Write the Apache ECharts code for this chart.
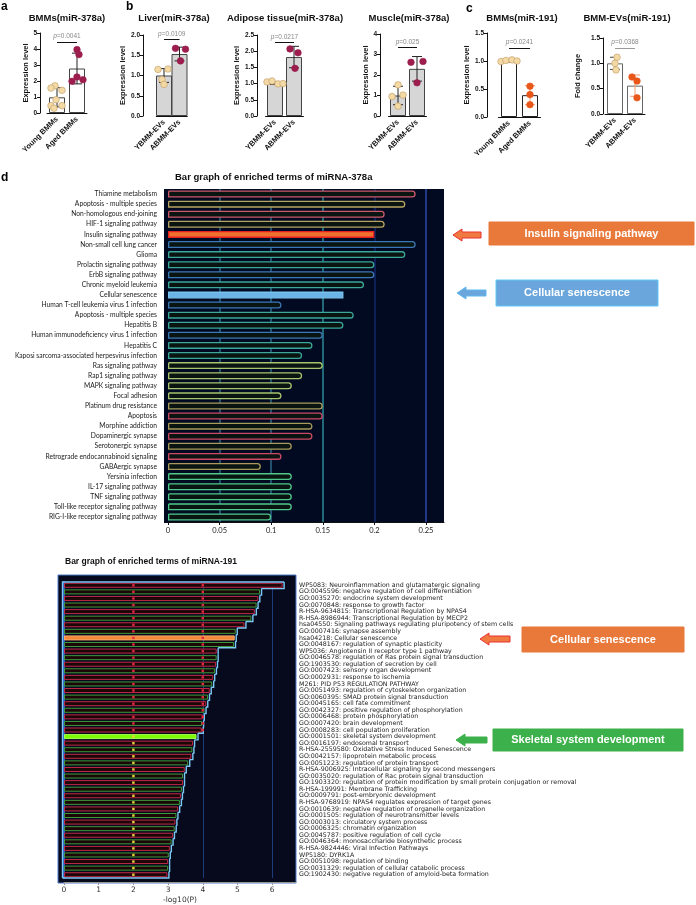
<!DOCTYPE html>
<html><head><meta charset="utf-8">
<script src="https://cdn.jsdelivr.net/npm/echarts@6/dist/echarts.min.js"></script>
<style>html,body{margin:0;padding:0;background:#fff}#c{width:696px;height:905px}</style>
</head><body><div id="c"></div><script>
// ================= DATA =================
const catsBMM = ['Young BMMs', 'Aged BMMs'];
const catsEV = ['YBMM-EVs', 'ABMM-EVs'];

// a: BMMs (miR-378a)
const aMean = [0.98, 2.78];
const aSD = [0.6, 0.96];
const aYoungPts = [1.7, 1.56, 1.42, 0.83, 0.46, 0.46, 0.3];
const aAgedPts = [3.96, 3.65, 2.25, 2.08, 1.98];
const aP = '0.0041';
const aBracket = 4.45;
// b: Liver
const liverMean = [1.0, 1.53];
const liverSD = [0.17, 0.17];
const liverYPts = [1.15, 1.16, 0.9, 0.78];
const liverAPts = [1.67, 1.65, 1.36];
const liverP = '0.0109';
const liverBracket = 1.89;
// b: Adipose tissue
const adiMean = [1.02, 1.82];
const adiSD = [0.04, 0.33];
const adiYPts = [1.05, 1.08, 0.99, 1.0];
const adiAPts = [2.07, 1.95, 1.47];
const adiP = '0.0217';
const adiBracket = 2.27;
// b: Muscle
const musMean = [1.0, 2.3];
const musSD = [0.45, 0.6];
const musYPts = [1.52, 0.95, 1.02, 0.48];
const musAPts = [2.62, 2.66, 1.62];
const musP = '0.025';
const musBracket = 3.35;
// c: BMMs (miR-191)
const c1Mean = [1.0, 0.39];
const c1SD = [0.02, 0.17];
const c1YPts = [0.99, 1.01, 1.02, 1.0];
const c1APts = [0.55, 0.4, 0.22];
const c1P = '0.0241';
const c1Bracket = 1.23;
// c: BMM-EVs (miR-191)
const c2Mean = [1.0, 0.56];
const c2SD = [0.12, 0.21];
const c2YPts = [1.12, 1.0, 0.87];
const c2APts = [0.73, 0.65, 0.32];
const c2P = '0.0368';
const c2Bracket = 1.3;

// d: enriched terms of miRNA-378a
const terms378 = ['Thiamine metabolism','Apoptosis - multiple species','Non-homologous end-joining','HIF-1 signaling pathway','Insulin signaling pathway','Non-small cell lung cancer','Glioma','Prolactin signaling pathway','ErbB signaling pathway','Chronic myeloid leukemia','Cellular senescence','Human T-cell leukemia virus 1 infection','Apoptosis - multiple species','Hepatitis B','Human immunodeficiency virus 1 infection','Hepatitis C','Kaposi sarcoma-associated herpesvirus infection','Ras signaling pathway','Rap1 signaling pathway','MAPK signaling pathway','Focal adhesion','Platinum drug resistance','Apoptosis','Morphine addiction','Dopaminergic synapse','Serotonergic synapse','Retrograde endocannabinoid signaling','GABAergic synapse','Yersinia infection','IL-17 signaling pathway','TNF signaling pathway','Toll-like receptor signaling pathway','RIG-I-like receptor signaling pathway'];
const vals378 = [0.24,0.23,0.21,0.21,0.20,0.24,0.23,0.20,0.20,0.19,0.17,0.11,0.18,0.17,0.15,0.14,0.13,0.15,0.13,0.12,0.11,0.15,0.15,0.14,0.14,0.12,0.11,0.09,0.12,0.12,0.12,0.12,0.10];

// d: enriched terms of miRNA-191
const terms191 = ['WP5083: Neuroinflammation and glutamatergic signaling','GO:0045596: negative regulation of cell differentiation','GO:0035270: endocrine system development','GO:0070848: response to growth factor','R-HSA-9634815: Transcriptional Regulation by NPAS4','R-HSA-8986944: Transcriptional Regulation by MECP2','hsa04550: Signaling pathways regulating pluripotency of stem cells','GO:0007416: synapse assembly','hsa04218: Cellular senescence','GO:0048167: regulation of synaptic plasticity','WP5036: Angiotensin II receptor type 1 pathway','GO:0046578: regulation of Ras protein signal transduction','GO:1903530: regulation of secretion by cell','GO:0007423: sensory organ development','GO:0002931: response to ischemia','M261: PID P53 REGULATION PATHWAY','GO:0051493: regulation of cytoskeleton organization','GO:0060395: SMAD protein signal transduction','GO:0045165: cell fate commitment','GO:0042327: positive regulation of phosphorylation','GO:0006468: protein phosphorylation','GO:0007420: brain development','GO:0008283: cell population proliferation','GO:0001501: skeletal system development','GO:0016197: endosomal transport','R-HSA-2559580: Oxidative Stress Induced Senescence','GO:0042157: lipoprotein metabolic process','GO:0051223: regulation of protein transport','R-HSA-9006925: Intracellular signaling by second messengers','GO:0035020: regulation of Rac protein signal transduction','GO:1903320: regulation of protein modification by small protein conjugation or removal','R-HSA-199991: Membrane Trafficking','GO:0009791: post-embryonic development','R-HSA-9768919: NPAS4 regulates expression of target genes','GO:0010639: negative regulation of organelle organization','GO:0001505: regulation of neurotransmitter levels','GO:0003013: circulatory system process','GO:0006325: chromatin organization','GO:0045787: positive regulation of cell cycle','GO:0046364: monosaccharide biosynthetic process','R-HSA-9824446: Viral Infection Pathways','WP5180: DYRK1A','GO:0051098: regulation of binding','GO:0031329: regulation of cellular catabolic process','GO:1902430: negative regulation of amyloid-beta formation'];
const vals191 = [6.3,5.65,5.6,5.55,5.5,5.4,5.2,4.95,4.92,4.9,4.4,4.4,4.38,4.35,4.3,4.27,4.2,4.15,4.1,4.05,4.0,3.98,3.97,3.82,3.72,3.7,3.67,3.58,3.48,3.43,3.43,3.4,3.37,3.34,3.29,3.24,3.21,3.19,3.14,3.1,3.05,3.02,3.0,3.0,2.98];

// ================= LAYOUT / STYLE =================
const FONT = 'Liberation Sans, Arial, sans-serif';
const panels = [
  {title:'BMMs(miR-378a)', tx:67, axisX:40, c0:57, band:20, top:33, bottom:113, max:5, interval:1, dec:0, yname:'Expression level', nameX:26,
   cats:catsBMM, mean:aMean, sd:aSD, p1:aYoungPts, p2:aAgedPts, p:aP, by:aBracket,
   fill:'#ffffff', stroke:'#444', col1:'#f3d9a4', col2:'#9c1d4e', err1:'#222', err2:'#222', brk:'#111',
   j1:[-2,-6,5,-1,-6,5,-3], j2:[0,2,0,6,-5]},
  {title:'Liver(miR-378a)', tx:174, axisX:143, c0:164, band:15.5, top:35, bottom:116, max:2, interval:0.5, dec:1, yname:'Expression level', nameX:127,
   cats:catsEV, mean:liverMean, sd:liverSD, p1:liverYPts, p2:liverAPts, p:liverP, by:liverBracket,
   fill:'#d6d6d6', stroke:'#444', col1:'#f3d9a4', col2:'#9c1d4e', err1:'#222', err2:'#222', brk:'#111',
   j1:[-6,4,-2,0], j2:[-4,6,1]},
  {title:'Adipose tissue(miR-378a)', tx:285, axisX:257, c0:275, band:19, top:35, bottom:116, max:2.5, interval:0.5, dec:1, yname:'Expression level', nameX:240,
   cats:catsEV, mean:adiMean, sd:adiSD, p1:adiYPts, p2:adiAPts, p:adiP, by:adiBracket,
   fill:'#d6d6d6', stroke:'#444', col1:'#f3d9a4', col2:'#9c1d4e', err1:'#222', err2:'#222', brk:'#111',
   j1:[-8,-3,3,8], j2:[-4,4,1]},
  {title:'Muscle(miR-378a)', tx:409, axisX:380, c0:398, band:19, top:34, bottom:116, max:4, interval:1, dec:0, yname:'Expression level', nameX:368,
   cats:catsEV, mean:musMean, sd:musSD, p1:musYPts, p2:musAPts, p:musP, by:musBracket,
   fill:'#d6d6d6', stroke:'#444', col1:'#f3d9a4', col2:'#9c1d4e', err1:'#222', err2:'#222', brk:'#111',
   j1:[0,-6,5,0], j2:[-6,6,0]},
  {title:'BMMs(miR-191)', tx:522, axisX:487, c0:509, band:21, top:33, bottom:117, max:1.5, interval:0.5, dec:1, yname:'Expression level', nameX:472,
   cats:catsBMM, mean:c1Mean, sd:c1SD, p1:c1YPts, p2:c1APts, p:c1P, by:c1Bracket,
   fill:'#ffffff', stroke:'#222', col1:'#f3d9a4', col2:'#e8561a', err1:'#222', err2:'#f29a70', brk:'#111',
   j1:[-8,-3,3,8], j2:[0,0,0]},
  {title:'BMM-EVs(miR-191)', tx:627, axisX:603, c0:615, band:20, top:38, bottom:114, max:1.5, interval:0.5, dec:1, yname:'Fold change', nameX:578,
   cats:catsEV, mean:c2Mean, sd:c2SD, p1:c2YPts, p2:c2APts, p:c2P, by:c2Bracket,
   fill:'#ffffff', stroke:'#666', col1:'#f3d9a4', col2:'#e8561a', err1:'#444', err2:'#f29a70', brk:'#999',
   j1:[2,0,1], j2:[-3,2,2]}
];

const grids = [], xAxes = [], yAxes = [], series = [], graphics = [];

panels.forEach((P, gi) => {
  const left = P.c0 - P.band / 2;
  grids.push({left: left, top: P.top, width: P.band * 2, height: P.bottom - P.top});
  xAxes.push({gridIndex: gi, type: 'category', data: P.cats,
    axisLine: {lineStyle: {color: '#111', width: 1}},
    axisTick: {alignWithLabel: true, length: 3, lineStyle: {color: '#111'}},
    axisLabel: {interval: 0, rotate: 45, fontSize: 7.5, fontWeight: 'bold', color: '#111', fontFamily: FONT, margin: 5}});
  yAxes.push({gridIndex: gi, type: 'value', min: 0, max: P.max, interval: P.interval, offset: left - P.axisX,
    name: P.yname, nameLocation: 'middle', nameGap: P.axisX - P.nameX - 4,
    nameTextStyle: {fontSize: 7.5, fontWeight: 'bold', color: '#111', fontFamily: FONT},
    axisLine: {show: true, lineStyle: {color: '#111'}},
    axisTick: {show: true, length: 3, lineStyle: {color: '#111'}},
    axisLabel: {fontSize: 6.5, fontWeight: 'bold', color: '#111', margin: 3, fontFamily: FONT, formatter: v => v.toFixed(P.dec)},
    splitLine: {show: false}});
  series.push({type: 'bar', xAxisIndex: gi, yAxisIndex: gi, data: P.mean, barWidth: 16, z: 2,
    itemStyle: {color: P.fill, borderColor: P.stroke, borderWidth: 1},
    markLine: {silent: true, symbol: 'none', animation: false,
      lineStyle: {color: P.brk, width: 1, type: 'solid'},
      label: {show: true, position: 'middle', formatter: '{i|p}=' + P.p, color: '#888', fontSize: 6.5, distance: 2, fontFamily: FONT,
        rich: {i: {fontStyle: 'italic', color: '#888', fontSize: 6.5, fontFamily: FONT}}},
      data: [[{coord: [P.cats[0], P.by]}, {coord: [P.cats[1], P.by]}]]}});
  series.push({type: 'custom', xAxisIndex: gi, yAxisIndex: gi, z: 3, encode: {x: 0, y: 1},
    data: P.mean.map((m, i) => [i, m, P.sd[i]]),
    renderItem: (params, api) => {
      const c = api.value(0), m = api.value(1), s = api.value(2);
      const t = api.coord([c, m + s]), b = api.coord([c, m - s]);
      const col = c === 0 ? P.err1 : P.err2;
      const st = {stroke: col, lineWidth: 1};
      return {type: 'group', children: [
        {type: 'line', shape: {x1: t[0], y1: t[1], x2: b[0], y2: b[1]}, style: st},
        {type: 'line', shape: {x1: t[0] - 5, y1: t[1], x2: t[0] + 5, y2: t[1]}, style: st},
        {type: 'line', shape: {x1: b[0] - 5, y1: b[1], x2: b[0] + 5, y2: b[1]}, style: st}]};
    }});
  const pts = P.p1.map((v, k) => [0, v, k]).concat(P.p2.map((v, k) => [1, v, k]));
  series.push({type: 'custom', xAxisIndex: gi, yAxisIndex: gi, z: 4, encode: {x: 0, y: 1}, data: pts,
    renderItem: (params, api) => {
      const c = api.value(0), v = api.value(1), k = api.value(2);
      const p = api.coord([c, v]);
      const off = (c === 0 ? P.j1 : P.j2)[k] || 0;
      return {type: 'circle', shape: {cx: p[0] + off, cy: p[1], r: 3.3},
        style: {fill: c === 0 ? P.col1 : P.col2, stroke: c === 0 ? '#c09a68' : P.col2, lineWidth: 0.6}};
    }});
  graphics.push({type: 'text', x: P.tx, y: 18, style: {text: P.title, fill: '#111', font: 'bold 9.5px ' + FONT, textAlign: 'center', textVerticalAlign: 'middle'}});
});

// ---------- top enrichment chart (miRNA-378a) ----------
const G1 = 6;
const px378 = 1032; // px per unit
grids.push({left: 168, top: 189, width: 276, height: 333});
xAxes.push({gridIndex: G1, type: 'value', min: 0, max: 276 / px378, interval: 0.05,
  axisLine: {show: true, lineStyle: {color: '#111'}},
  axisTick: {show: true, length: 3, lineStyle: {color: '#111'}},
  axisLabel: {fontSize: 7.5, color: '#222', fontFamily: 'Lato, sans-serif', margin: 5, showMaxLabel: false},
  splitLine: {show: true, lineStyle: {width: 1.5, color: ['rgba(0,0,0,0)', '#2a6a8a', '#2a6a8a', '#2a8a96', '#10296a', '#2a4aa8', 'rgba(0,0,0,0)']}}});
yAxes.push({gridIndex: G1, type: 'category', data: terms378, inverse: true,
  axisLine: {show: false}, axisTick: {show: false},
  axisLabel: {interval: 0, fontSize: 6.7, color: '#1a1a1a', fontFamily: 'Lato, sans-serif', margin: 11}});
function border378(i) {
  if (i < 5) return i % 2 ? '#b8a462' : '#cc5a6c';
  if (i < 17) return i % 3 === 2 ? '#3a78b8' : '#3aa89a';
  if (i < 21) return '#a8c46e';
  if (i < 28) return i % 2 ? '#a89a5a' : '#cc4a66';
  return '#50c88c';
}
series.push({type: 'bar', xAxisIndex: G1, yAxisIndex: G1, barWidth: 7, z: 3,
  data: vals378.map((v, i) => {
    let st = {color: '#0a1410', borderColor: border378(i), borderWidth: 1.3, borderRadius: [0, 3, 3, 0]};
    if (i === 4) st = {color: '#f07030', borderColor: '#e82020', borderWidth: 1.3};
    if (i === 10) st = {color: '#6cb4e8', borderColor: '#7cc4f0', borderWidth: 1.3};
    return {value: v, itemStyle: st};
  })});

// ---------- bottom enrichment chart (miRNA-191) ----------
const G2 = 7;
grids.push({left: 64, top: 582, width: 232, height: 300});
xAxes.push({gridIndex: G2, type: 'value', min: 0, max: 232 / 34.7, interval: 1, offset: 4,
  name: '-log10(P)', nameLocation: 'middle', nameGap: 14,
  nameTextStyle: {fontSize: 7.5, color: '#333', fontFamily: 'DejaVu Sans, sans-serif'},
  axisLine: {show: true, lineStyle: {color: '#999'}},
  axisTick: {show: true, length: 3, lineStyle: {color: '#999'}},
  axisLabel: {fontSize: 7.5, color: '#333', fontFamily: 'DejaVu Sans, sans-serif', margin: 4, showMaxLabel: false},
  splitLine: {show: true, lineStyle: {width: 1, color: ['rgba(0,0,0,0)', 'rgba(0,0,0,0)', 'rgba(0,0,0,0)', 'rgba(0,0,0,0)', '#1a3a7a', 'rgba(0,0,0,0)', '#1a3a7a', 'rgba(0,0,0,0)']}}});
yAxes.push({gridIndex: G2, type: 'category', data: terms191, inverse: true, position: 'right',
  axisLine: {show: true, lineStyle: {color: '#2a5cc0', width: 2}}, axisTick: {show: false},
  axisLabel: {interval: 0, fontSize: 6.3, color: '#222', fontFamily: 'DejaVu Sans, sans-serif', margin: 3, align: 'left'}});
series.push({type: 'bar', xAxisIndex: G2, yAxisIndex: G2, barWidth: 5, z: 3,
  data: vals191.map((v, i) => {
    let st = {color: '#1c0708', borderColor: i % 2 ? '#3c9a3a' : '#c02848', borderWidth: 1};
    if (i === 8) st = {color: '#f4883a', borderColor: '#f8a868', borderWidth: 1};
    if (i === 23) st = {color: '#7cfc00', borderColor: '#a0ff50', borderWidth: 1};
    return {value: v, itemStyle: st};
  })});
series.push({type: 'custom', xAxisIndex: G2, yAxisIndex: G2, z: 5, encode: {x: 0, y: 1},
  data: vals191.map((v, i) => [v, i]),
  renderItem: (params, api) => {
    const i = params.dataIndex, n = vals191.length;
    const p = api.coord([api.value(0), i]);
    const h = api.size([0, 1])[1];
    const yT = p[1] - h / 2, yB = p[1] + h / 2;
    const x = p[0] + 1.5;
    const x0 = api.coord([0, i])[0] - 1.5;
    const pts = [[x, yT], [x, yB]];
    if (i < n - 1) pts.push([api.coord([vals191[i + 1], i + 1])[0] + 1.5, yB]);
    else pts.push([x0, yB]);
    const ls = {stroke: '#7cc8f4', lineWidth: 1.4, fill: null};
    const ch = [{type: 'polyline', shape: {points: pts}, style: ls}];
    if (i === 0) ch.push({type: 'polyline', shape: {points: [[x0, yT + h * n], [x0, yT], [x, yT]]}, style: ls});
    const m2 = api.coord([2, i]);
    ch.push({type: 'rect', shape: {x: m2[0] - 1.2, y: p[1] - 1.2, width: 2.4, height: 2.4}, style: {fill: i < 23 ? '#e02a40' : '#e8d040'}});
    if (i < 23) {
      const m4 = api.coord([4, i]);
      ch.push({type: 'rect', shape: {x: m4[0] - 1.2, y: p[1] - 1.2, width: 2.4, height: 2.4}, style: {fill: '#e02a40'}});
    }
    return {type: 'group', children: ch};
  }});

// ---------- graphics ----------
function letter(t, x, y) {
  return {type: 'text', x: x, y: y, style: {text: t, fill: '#000', font: 'bold 12px ' + FONT, textVerticalAlign: 'top'}};
}
function arrow(x0, x1, y, fill, stroke) {
  const hl = 9, hw = 6, sw = 3;
  return {type: 'polygon', z: 100, shape: {points: [[x0, y], [x0 + hl, y - hw], [x0 + hl, y - sw], [x1, y - sw], [x1, y + sw], [x0 + hl, y + sw], [x0 + hl, y + hw]]},
    style: {fill: fill, stroke: stroke || fill, lineWidth: 1}};
}
function box(x, y, w, h, fill, stroke, text) {
  return [{type: 'rect', z: 100, shape: {x: x, y: y, width: w, height: h}, style: {fill: fill, stroke: stroke || fill, lineWidth: 1}},
    {type: 'text', z: 101, x: x + w / 2, y: y + h / 2, style: {text: text, fill: '#fff', font: 'bold 11px ' + FONT, textAlign: 'center', textVerticalAlign: 'middle'}}];
}
graphics.push(letter('a', 1, 1), letter('b', 126, 1), letter('c', 466, 3), letter('d', 1, 172));
graphics.push({type: 'rect', z: -10, shape: {x: 164, y: 189, width: 280, height: 334}, style: {fill: '#020a22'}});
graphics.push({type: 'rect', z: -10, shape: {x: 58, y: 575, width: 238, height: 308}, style: {fill: '#060a1c', stroke: '#4a78c8', lineWidth: 1}});
graphics.push({type: 'text', x: 175, y: 177, style: {text: 'Bar graph of enriched terms of miRNA-378a', fill: '#111', font: 'bold 9.5px ' + FONT, textVerticalAlign: 'middle'}});
graphics.push({type: 'text', x: 65, y: 562, style: {text: 'Bar graph of enriched terms of miRNA-191', fill: '#111', font: 'bold 8.5px ' + FONT, textVerticalAlign: 'middle'}});
graphics.push(...box(489, 222, 205, 23, '#e8793a', null, 'Insulin signaling pathway'));
graphics.push(arrow(453, 481, 235, '#f07a40', '#e83030'));
graphics.push(...box(496, 280, 162, 26, '#6aa6dc', '#5ec8f4', 'Cellular senescence'));
graphics.push(arrow(457, 486, 293, '#6aa6dc', '#5eb8ee'));
graphics.push(...box(522, 627, 162, 25, '#e8793a', null, 'Cellular senescence'));
graphics.push(arrow(480, 510, 639, '#f07a40', '#e83030'));
graphics.push(...box(493, 729, 190, 22, '#3cb04a', null, 'Skeletal system development'));
graphics.push(arrow(456, 487, 740, '#3cb04a'));

const chart = echarts.init(document.getElementById('c'), null, {renderer: 'canvas', width: 696, height: 905});
chart.setOption({
  animation: false,
  backgroundColor: '#ffffff',
  textStyle: {fontFamily: FONT},
  grid: grids, xAxis: xAxes, yAxis: yAxes, series: series,
  graphic: {elements: graphics}
});
</script></body></html>
